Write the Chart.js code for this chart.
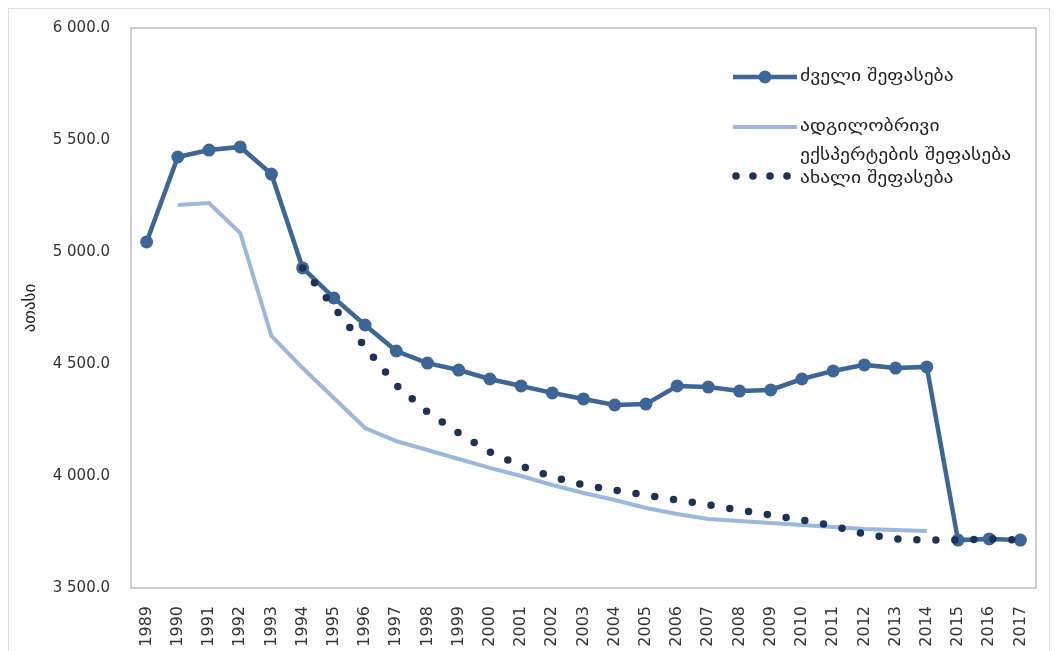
<!DOCTYPE html>
<html>
<head>
<meta charset="utf-8">
<script src="https://cdn.jsdelivr.net/npm/chart.js@4"></script>
<style>
  body { margin: 0; background: #fff; }
  #wrap { width: 1058px; height: 651px; position: relative; }
</style>
</head>
<body>
<div id="wrap"><canvas id="chart"></canvas></div>
<script>
// Years on the x axis
const years = ["1989","1990","1991","1992","1993","1994","1995","1996","1997","1998",
  "1999","2000","2001","2002","2003","2004","2005","2006","2007","2008","2009","2010",
  "2011","2012","2013","2014","2015","2016","2017"];

// old estimate (ძველი შეფასება)
const oldEstimate = [5045, 5424, 5455, 5469, 5348, 4929, 4795, 4674, 4558, 4504,
  4473, 4433, 4402, 4371, 4344, 4317, 4321, 4402, 4397, 4379, 4384, 4433,
  4469, 4496, 4482, 4487, 3714, 3719, 3714];

// local experts' estimate
const expertEstimate = [null, 5210, 5219, 5085, 4625, 4482, 4348, 4214, 4156, 4116,
  4076, 4036, 4000, 3960, 3924, 3893, 3857, 3830, 3808, 3799, 3790, 3781,
  3772, 3763, 3759, 3754, null, null, null];

// new estimate (ახალი შეფასება)
const newEstimate = [null, null, null, null, null, 4929, 4754, 4576, 4406, 4286,
  4192, 4107, 4045, 3996, 3960, 3937, 3915, 3893, 3871, 3848, 3826, 3804,
  3777, 3741, 3719, 3714, 3714, 3719, 3714];

const yTicks = [3500, 4000, 4500, 5000, 5500, 6000];

const GEO = "'DejaVu Sans', sans-serif";

// frame, plot border and the legend on the right
const decor = {
    id: "decor",
    afterDraw(chart) {
        const ctx = chart.ctx;
        const a = chart.chartArea;
        ctx.save();
        ctx.strokeStyle = "#dcdcdc";
        ctx.lineWidth = 1;
        ctx.strokeRect(8.5, 8.5, 1041, 700);
        ctx.strokeStyle = "#bdbdbd";
        ctx.lineWidth = 1.5;
        ctx.strokeRect(a.left, a.top, a.right - a.left, a.bottom - a.top);

        const ds = chart.data.datasets;
        ctx.lineCap = "butt";

        // entry 1 line + marker
        ctx.strokeStyle = ds[0].borderColor;
        ctx.lineWidth = ds[0].borderWidth;
        ctx.beginPath(); ctx.moveTo(733, 77); ctx.lineTo(797, 77); ctx.stroke();
        ctx.fillStyle = ds[0].borderColor;
        ctx.beginPath(); ctx.arc(765, 77, 6.5, 0, Math.PI * 2); ctx.fill();

        // entry 2 line
        ctx.strokeStyle = ds[1].borderColor;
        ctx.lineWidth = ds[1].borderWidth;
        ctx.beginPath(); ctx.moveTo(733, 127); ctx.lineTo(797, 127); ctx.stroke();

        // entry 3 dots
        ctx.fillStyle = ds[2].borderColor;
        [736, 753, 770, 787].forEach(x => {
            ctx.beginPath(); ctx.arc(x, 176, 3.8, 0, Math.PI * 2); ctx.fill();
        });

        // texts, a bit wider than the font
        const l2 = ds[1].label.split(" ");
        const texts = [
            [ds[0].label, 77],
            [l2[0], 127],
            [l2.slice(1).join(" "), 156],
            [ds[2].label, 179]
        ];
        ctx.font = "17px " + GEO;
        ctx.fillStyle = "#222";
        ctx.textBaseline = "middle";
        texts.forEach(([t, y]) => {
            ctx.save();
            ctx.translate(800, y);
            ctx.scale(1.15, 1);
            ctx.fillText(t, 0, 0);
            ctx.restore();
        });
        ctx.restore();
    }
};

new Chart(document.getElementById("chart"), {
    type: "line",
    data: {
        labels: years,
        datasets: [
            {
                label: "ძველი შეფასება",
                data: oldEstimate,
                borderColor: "#3c6698",
                backgroundColor: "#3c6698",
                borderWidth: 4.5,
                pointRadius: 6.5,
                pointHoverRadius: 6.5,
                pointBorderWidth: 0,
                tension: 0,
                order: 1
            },
            {
                label: "ადგილობრივი ექსპერტების შეფასება",
                data: expertEstimate,
                borderColor: "#9ab7dd",
                backgroundColor: "#9ab7dd",
                borderWidth: 4,
                pointRadius: 0,
                tension: 0,
                order: 2
            },
            {
                label: "ახალი შეფასება",
                data: newEstimate,
                borderColor: "#1b3356",
                backgroundColor: "#1b3356",
                borderWidth: 7.5,
                borderDash: [0, 19],
                borderCapStyle: "round",
                pointRadius: 0,
                tension: 0,
                order: 0
            }
        ]
    },
    options: {
        responsive: true,
        maintainAspectRatio: false,
        animation: false,
        layout: { padding: { left: 0, right: 22, top: 28, bottom: 0 } },
        plugins: {
            legend: { display: false },
            tooltip: { enabled: false }
        },
        scales: {
            x: {
                offset: true,
                grid: { display: false },
                border: { display: false },
                ticks: {
                    color: "#333",
                    font: { family: GEO, size: 16 },
                    minRotation: 90,
                    maxRotation: 90,
                    autoSkip: false,
                    padding: 10
                },
                afterFit(scale) { scale.height = 63; }
            },
            y: {
                min: 3500,
                max: 6000,
                afterBuildTicks(scale) {
                    scale.ticks = yTicks.map(v => ({ value: v }));
                },
                grid: { display: false },
                border: { display: false },
                ticks: {
                    color: "#333",
                    font: { family: GEO, size: 15 },
                    padding: 13,
                    callback: v => {
                        const s = v.toFixed(1);
                        return s.length > 5 ? s.slice(0, s.length - 5) + " " + s.slice(-5) : s;
                    }
                },
                title: {
                    display: true,
                    text: "ათასი",
                    color: "#222",
                    font: { family: GEO, size: 17 },
                    padding: { top: 20, bottom: 0 }
                },
                afterFit(scale) { scale.width = 131; }
            }
        }
    },
    plugins: [decor]
});
</script>
</body>
</html>
